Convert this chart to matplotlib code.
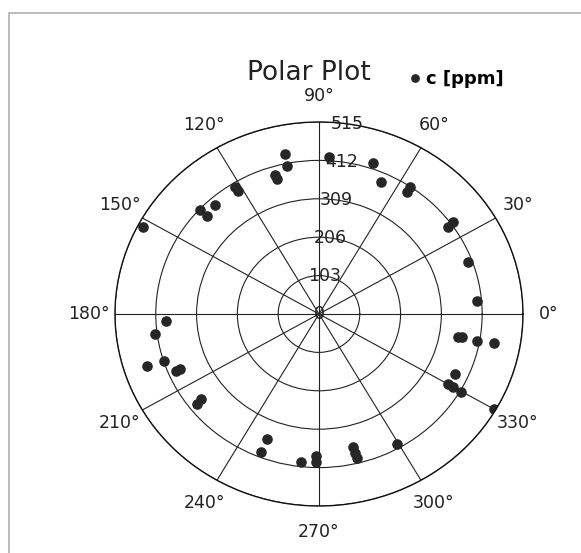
import numpy as np
import matplotlib
matplotlib.use("Agg")
import matplotlib.pyplot as plt
from matplotlib.patches import Rectangle

# measured concentration against direction
theta_deg = [5.0, 20.4, 35.6, 36.1, 55.8, 56.0, 66.1, 71.4, 86.6,
             101.3, 101.5, 106.6, 106.3, 121.9, 121.8, 131.9, 137.1, 137.1,
             152.3, 182.8, 187.4, 197.8, 197.9, 202.9, 202.8, 218.1, 217.4,
             248.6, 248.4, 263.5, 268.9, 268.9, 283.5, 283.7, 284.0, 299.5,
             329.7, 330.0, 330.0, 330.0, 334.9, 349.7, 350.0, 350.3, 350.0]
c_ppm = [400, 401, 401, 419, 396, 411, 387, 427, 422,
         438, 405, 389, 377, 401, 388, 393, 410, 386,
         502, 387, 418, 456, 411, 392, 381, 391, 375,
         360, 398, 400, 381, 397, 367, 384, 398, 400,
         415, 376, 391, 510, 379, 405, 356, 366, 449]

r_ticks = [0, 103, 206, 309, 412, 515]
theta_ticks = [0, 30, 60, 90, 120, 150, 180, 210, 240, 270, 300, 330]

fig = plt.figure(figsize=(5.81, 5.53), dpi=100)
fig.patches.append(Rectangle((9 / 581, -0.1), 1.2, 1.1 - 13 / 553,
                             transform=fig.transFigure, fill=False,
                             edgecolor="#b0b0b0", linewidth=1.2))

ax = fig.add_axes([0.1979, 0.085, 0.7022, 0.6944], projection="polar")
ax.set_aspect("auto")

ax.plot(np.deg2rad(theta_deg), c_ppm, "o", color="#262626", ms=6.6,
        linestyle="none", label="c [ppm]")

ax.set_ylim(0, 515)
ax.set_yticks(r_ticks)
ax.set_yticklabels([])
ax.set_xticks(np.deg2rad(theta_ticks))
ax.set_xticklabels([f"{t}°" for t in theta_ticks], fontsize=12.5, color="#222222")
ax.tick_params(axis="x", pad=8)
ax.grid(True, color="#222222", linewidth=0.8)
ax.spines["polar"].set_color("#111111")
ax.spines["polar"].set_linewidth(1.0)

# radial value labels just right of the vertical axis
for r in r_ticks:
    ax.text(np.deg2rad(82), r, str(r), ha="center", va="center",
            fontsize=12.5, color="#222222")

fig.text(309 / 581, 1 - 73 / 553, "Polar Plot", ha="center", va="center",
         fontsize=19, color="#222222")
fig.legend(loc="center", bbox_to_anchor=(457 / 581, 1 - 79 / 553),
           frameon=False, handlelength=0.6, handletextpad=0.3,
           markerscale=0.8, prop={"weight": "bold", "size": 13})

fig.savefig("out.png", dpi=100)
